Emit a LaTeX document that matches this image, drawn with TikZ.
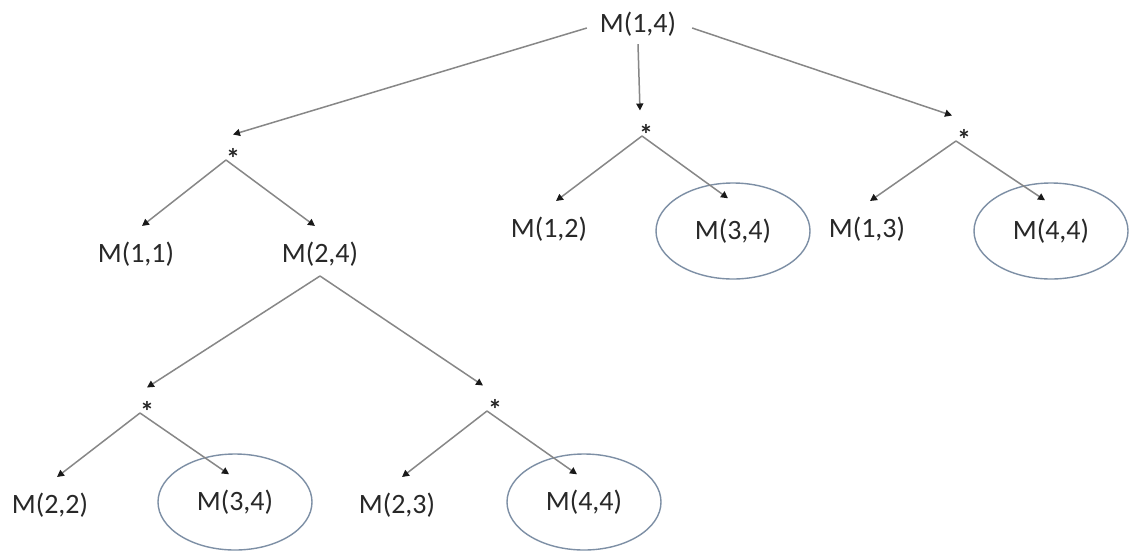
\documentclass[tikz,border=0pt]{standalone}
\usepackage{fontspec}
\setmainfont{Carlito}
\usetikzlibrary{arrows.meta,shapes.geometric}
\definecolor{ellc}{RGB}{125,143,165}
\definecolor{txtc}{RGB}{40,40,40}
\definecolor{linec}{RGB}{135,135,135}
\definecolor{tipc}{RGB}{25,25,25}
\tikzset{
  toplbl/.style={font=\fontsize{28}{34}\selectfont, text=txtc, inner sep=0pt, outer sep=0pt},
  lbl/.style={font=\fontsize{28}{34}\selectfont, text=txtc, inner sep=0pt, outer sep=0pt, text height=36pt, text depth=0pt, anchor=base},
  ell/.style={ellipse, draw=ellc, line width=1.4pt, font=\fontsize{28}{34}\selectfont, text=txtc, inner sep=0pt, minimum width=154pt, minimum height=96pt},
  starn/.style={font=\fontsize{28}{34}\selectfont\bfseries, text=black!85, inner sep=0pt, outer sep=0pt, text height=34pt, text depth=0pt, anchor=base},
  conn/.style={draw=linec, line width=1.5pt, -{Triangle[length=7pt,width=7pt,color=tipc,fill=tipc]}}
}
\begin{document}
\begin{tikzpicture}[x=1pt,y=-1pt]
\fill[white] (0,0) rectangle (1148,552);
\useasboundingbox (0,0) rectangle (1148,552);
% nodes
\node[toplbl] (root) at (638,24) {M(1,4)};
\node[starn] (s1) at (233,168.5) {*};
\node[starn] (s2) at (646,144.5) {*};
\node[starn] (s3) at (964,149.5) {*};
\node[lbl] (m11) at (136,262) {M(1,1)};
\node[lbl] (m24) at (320,262) {M(2,4)};
\node[lbl] (m12) at (549,237) {M(1,2)};
\node[ell] (m34a) at (733,231) {M(3,4)};
\node[lbl] (m13) at (867,237) {M(1,3)};
\node[ell] (m44a) at (1051,231) {M(4,4)};
\node[starn] (s4) at (147,421.5) {*};
\node[starn] (s5) at (495,419.5) {*};
\node[lbl] (m22) at (50,513) {M(2,2)};
\node[ell] (m34b) at (235,502) {M(3,4)};
\node[lbl] (m23) at (397,513) {M(2,3)};
\node[ell] (m44b) at (584,502) {M(4,4)};
% connectors
\draw[conn] ([shift={(-13pt,-4pt)}]root.west) -- (s1.north);
\draw[conn] ([yshift=-8pt]root.south) -- ([xshift=-6pt]s2.north);
\draw[conn] ([shift={(16pt,-4pt)}]root.east) -- ([xshift=-12pt]s3.north);
\draw[conn] ([shift={(-7pt,8.5pt)}]s1.south) -- ([xshift=6pt]m11.north);
\draw[conn] ([shift={(-7pt,8.5pt)}]s1.south) -- ([xshift=-5pt]m24.north);
\draw[conn] ([shift={(-4pt,8.5pt)}]s2.south) -- ([xshift=7pt]m12.north);
\draw[conn] ([shift={(-4pt,8.5pt)}]s2.south) -- ([shift={(-5pt,-16pt)}]m34a.north);
\draw[conn] ([shift={(-8pt,8.5pt)}]s3.south) -- ([xshift=3pt]m13.north);
\draw[conn] ([shift={(-8pt,8.5pt)}]s3.south) -- ([shift={(-6pt,-18pt)}]m44a.north);
\draw[conn] ([yshift=-14pt]m24.south) -- (s4.north);
\draw[conn] ([yshift=-14pt]m24.south) -- ([xshift=-12pt]s5.north);
\draw[conn] ([shift={(-7pt,8.5pt)}]s4.south) -- ([xshift=7pt]m22.north);
\draw[conn] ([shift={(-7pt,8.5pt)}]s4.south) -- ([shift={(-6pt,-21pt)}]m34b.north);
\draw[conn] ([shift={(-8pt,8.5pt)}]s5.south) -- ([xshift=5pt]m23.north);
\draw[conn] ([shift={(-8pt,8.5pt)}]s5.south) -- ([shift={(-7pt,-21pt)}]m44b.north);
\end{tikzpicture}
\end{document}
